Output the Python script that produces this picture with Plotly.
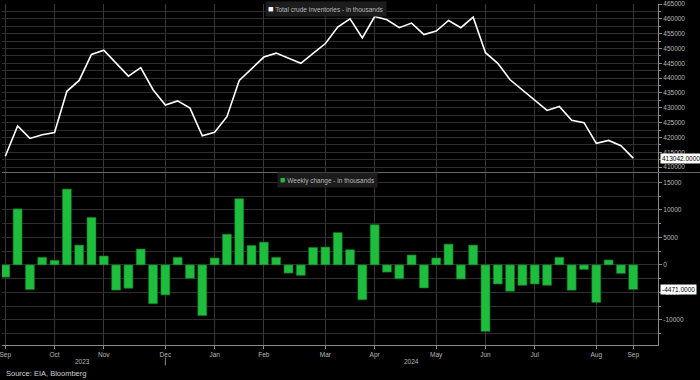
import plotly.graph_objects as go
import pandas as pd

# ---- data (thousands of barrels) ----
week_end = pd.date_range("2023-09-29", "2024-09-20", freq="W-FRI")

inventory = [
    413667, 423900, 419667, 420900, 421667, 435567, 439233, 448000, 449433, 445000,
    440667, 443567, 436100, 430900, 432333, 429900, 420567, 421767, 427000, 439233,
    443000, 447100, 448433, 446667, 445000, 448333, 451667, 457233, 460000, 453567,
    460767, 459667, 457000, 458567, 454667, 455900, 459433, 457000, 460567, 448567,
    445000, 439433, 435900, 432567, 429100, 430433, 425767, 425000, 418000, 419000,
    417233, 413042,
]

weekly_change = [
    -2240, 10190, -4500, 1380, 840, 13790, 3600, 8630, 1620, -4600,
    -4260, 2880, -7070, -5460, 1380, -2460, -9230, 1260, 5580, 12050,
    3540, 4140, 1380, -1500, -1920, 3180, 3240, 5880, 2760, -6350,
    7310, -1320, -2520, 1800, -4200, 1260, 3780, -2580, 3600, -12110,
    -3480, -4800, -3720, -3480, -3720, 1380, -4620, -840, -6830, 900,
    -1560, -4471,
]

month_ticks = ["2023-09-29", "2023-10-27", "2023-11-24", "2023-12-29", "2024-01-26",
               "2024-02-23", "2024-03-29", "2024-04-26", "2024-05-31", "2024-06-28",
               "2024-07-26", "2024-08-30", "2024-09-20"]
month_labels = ["Sep", "Oct", "Nov", "Dec", "Jan", "Feb", "Mar", "Apr", "May", "Jun",
                "Jul", "Aug", "Sep"]

inv_ticks = [410000, 415000, 420000, 425000, 430000, 435000, 440000, 445000,
             450000, 455000, 460000, 465000]
chg_ticks = [-15000, -10000, -5000, 0, 5000, 10000, 15000]

last_inv = inventory[-1]
last_chg = weekly_change[-1]

GRID = "#2e2e2e"
AXIS = "#8a8a8a"
TXT = "#b8b8b8"
FONT = "Arial, Liberation Sans, sans-serif"

fig = go.Figure()
fig.add_trace(go.Scatter(x=week_end, y=inventory, mode="lines",
                         line=dict(color="white", width=1.6),
                         xaxis="x2", yaxis="y", name="Total crude inventories - in thousands"))
fig.add_trace(go.Bar(x=week_end, y=weekly_change,
                     marker=dict(color="#1fbd3d", line=dict(color="#0f6e24", width=0.6)),
                     xaxis="x", yaxis="y2", name="Weekly change - in thousands"))

xrange = ["2023-09-27 03:00", "2024-10-04 02:00"]

fig.update_layout(
    width=700, height=380,
    margin=dict(l=0, r=42, t=0, b=35),
    paper_bgcolor="black", plot_bgcolor="black",
    showlegend=False, bargap=0.27,
    font=dict(family=FONT, color=TXT, size=7),
    xaxis=dict(domain=[0, 1], anchor="y2", type="date", range=xrange,
               tickmode="array", tickvals=month_ticks, ticktext=month_labels,
               ticks="outside", ticklen=3, tickcolor=AXIS, ticklabeloverflow="allow",
               showline=True, linecolor=AXIS, linewidth=1,
               showgrid=True, gridcolor="#363636", zeroline=False,
               tickfont=dict(size=6.5, color=TXT, family=FONT)),
    xaxis2=dict(domain=[0, 1], anchor="y", type="date", matches="x", range=xrange,
                tickmode="array", tickvals=month_ticks, showticklabels=False,
                ticks="", showgrid=True, gridcolor="#363636", zeroline=False),
    yaxis=dict(domain=[0.5072, 1], anchor="x2", side="right",
               range=[408333, 465000], tickmode="array", tickvals=inv_ticks,
               ticktext=[str(v) for v in inv_ticks], ticklabeloverflow="allow",
               ticks="outside", ticklen=3, tickcolor=AXIS,
               showline=True, linecolor=AXIS, linewidth=1,
               showgrid=True, gridcolor=GRID, zeroline=False,
               minor=dict(tickmode="linear", tick0=0, dtick=2500, showgrid=True,
                          gridcolor=GRID, ticks="outside", ticklen=2, tickcolor=AXIS),
               tickfont=dict(size=6.5, color=TXT, family=FONT)),
    yaxis2=dict(domain=[0, 0.5043], anchor="x", side="right",
                range=[-14570, 16700], tickmode="array", tickvals=chg_ticks,
                ticktext=[str(v) for v in chg_ticks], ticklabeloverflow="allow",
                ticks="outside", ticklen=3, tickcolor=AXIS,
                showline=True, linecolor=AXIS, linewidth=1,
                showgrid=True, gridcolor=GRID, zeroline=False,
                minor=dict(tickmode="linear", tick0=0, dtick=2500, showgrid=True,
                           gridcolor=GRID, ticks="outside", ticklen=2, tickcolor=AXIS),
                tickfont=dict(size=6.5, color=TXT, family=FONT)),
)

shapes = [
    # divider between panels
    dict(type="line", xref="paper", yref="paper", x0=0, x1=1.064, y0=0.5058, y1=0.5058,
         line=dict(color="#6a6a6a", width=1)),
    # year separator tick
    dict(type="line", xref="x", yref="paper", x0="2023-12-29", x1="2023-12-29",
         y0=-0.037, y1=-0.06, line=dict(color=AXIS, width=1)),
]
fig.update_layout(shapes=shapes)

annotations = [
    dict(xref="paper", yref="paper", x=325 / 658, y=1 - 5.5 / 345, xanchor="center",
         yanchor="middle", showarrow=False, bgcolor="#1c1c1c", borderpad=2,
         text='<span style="color:#ffffff;font-size:9px">■</span> Total crude inventories - in thousands',
         font=dict(size=6.5, color=TXT, family=FONT)),
    dict(xref="paper", yref="paper", x=326.5 / 658, y=(345 - 178) / 345, xanchor="center",
         yanchor="middle", showarrow=False, bgcolor="#1c1c1c", borderpad=2,
         text='<span style="color:#1fbd3d;font-size:9px">■</span> Weekly change - in thousands',
         font=dict(size=6.5, color=TXT, family=FONT)),
    dict(xref="paper", yref="y", x=1.0, xshift=2, y=last_inv, xanchor="left",
         yanchor="middle", showarrow=False, bgcolor="white", borderpad=1,
         text=f"{last_inv:.4f}", font=dict(size=6.5, color="black", family=FONT)),
    dict(xref="paper", yref="y2", x=1.0, xshift=2, y=last_chg, xanchor="left",
         yanchor="middle", showarrow=False, bgcolor="white", borderpad=1,
         text=f"{last_chg:.4f}", font=dict(size=6.5, color="black", family=FONT)),
    dict(xref="x", yref="paper", x="2023-11-12", y=(345 - 362) / 345, xanchor="center",
         yanchor="middle", showarrow=False, text="2023",
         font=dict(size=6.5, color=TXT, family=FONT)),
    dict(xref="x", yref="paper", x="2024-05-17", y=(345 - 362) / 345, xanchor="center",
         yanchor="middle", showarrow=False, text="2024",
         font=dict(size=6.5, color=TXT, family=FONT)),
    dict(xref="paper", yref="paper", x=0.003, y=(345 - 374) / 345, xanchor="left",
         yanchor="middle", showarrow=False, text="Source: EIA, Bloomberg",
         font=dict(size=7.5, color="#d0d0d0", family=FONT)),
]
fig.update_layout(annotations=annotations)

fig.write_html("out.html", config={"displayModeBar": False},
               post_script="document.body.style.margin='0';document.body.style.overflow='hidden';")
